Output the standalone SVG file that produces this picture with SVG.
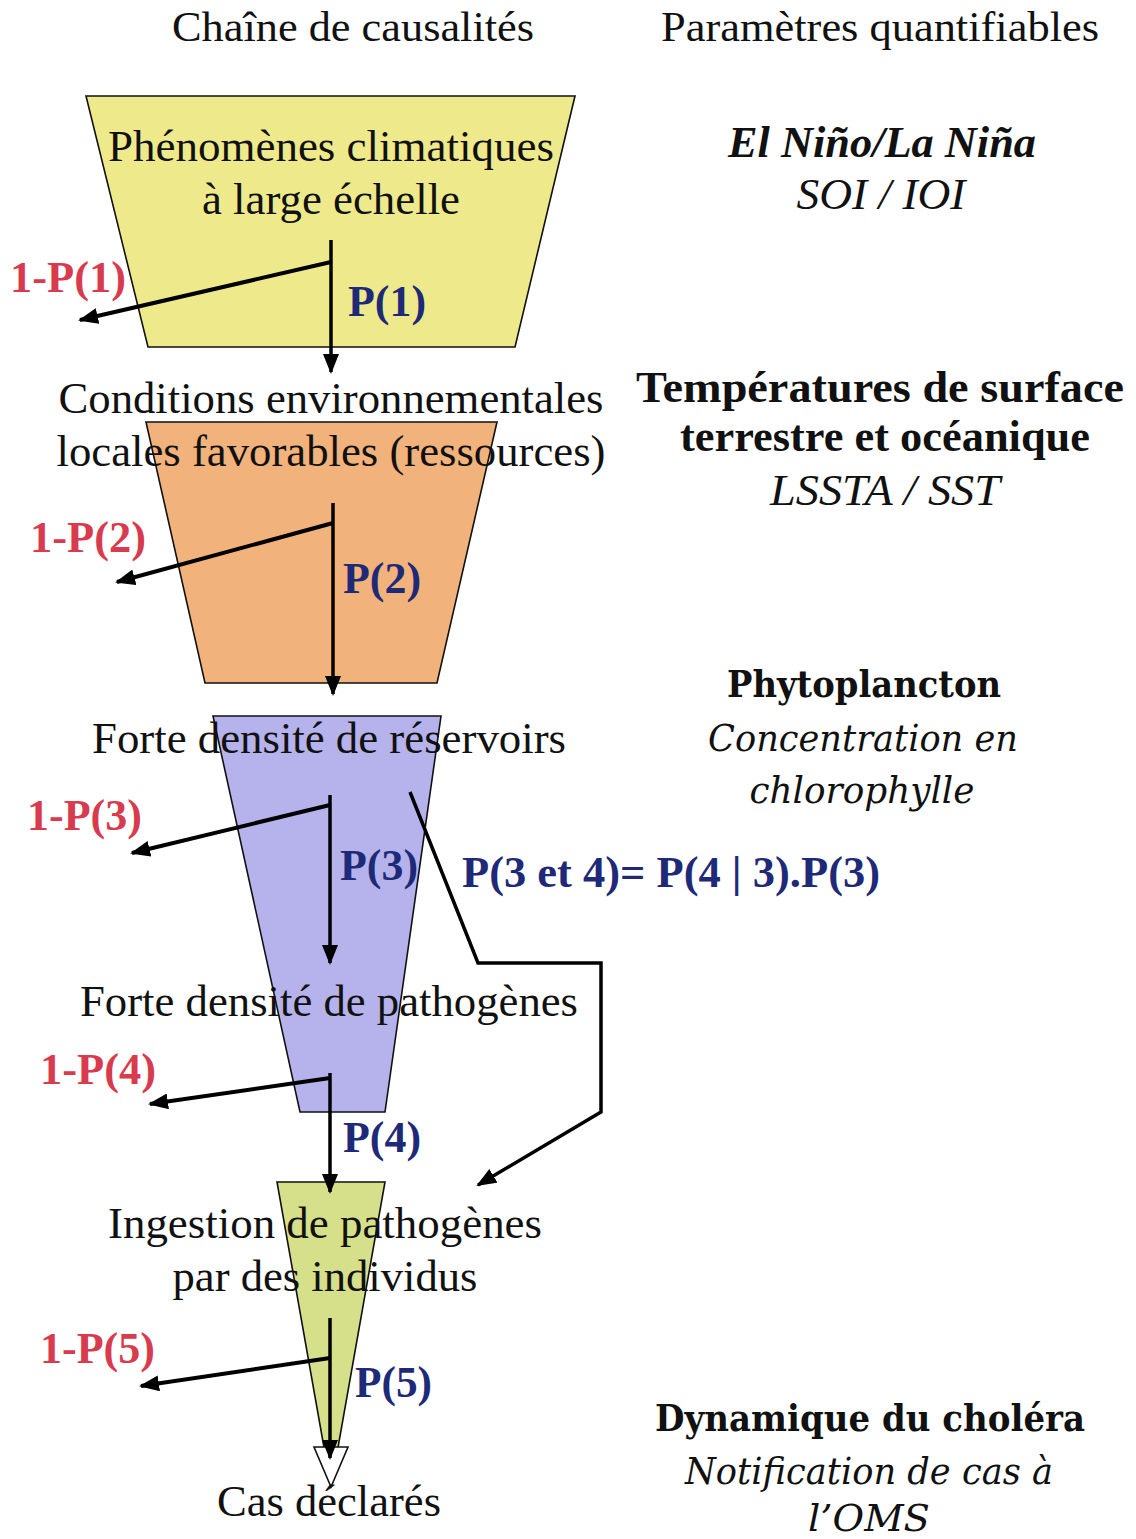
<svg xmlns="http://www.w3.org/2000/svg" width="1136" height="1539" viewBox="0 0 1136 1539">
<defs>
<marker id="ah" markerUnits="userSpaceOnUse" markerWidth="20" markerHeight="16" refX="18" refY="8" orient="auto">
<path d="M0,0 L20,8 L0,16 z" fill="#000"/>
</marker>
<style>
.t{font-family:'Liberation Serif','Times New Roman',serif;font-size:44px;fill:#111;text-anchor:middle}
.h{font-family:'Liberation Serif','Times New Roman',serif;font-size:43px;fill:#111;text-anchor:middle}
.r{font-family:'Liberation Serif','Times New Roman',serif;font-size:44px;font-weight:bold;fill:#d83a4e}
.b{font-family:'Liberation Serif','Times New Roman',serif;font-size:44px;font-weight:bold;fill:#1e2a78}
.rb{font-family:'Liberation Serif','Times New Roman',serif;font-size:44px;font-weight:bold;fill:#111;text-anchor:middle}
.ri{font-family:'Liberation Serif','Times New Roman',serif;font-size:44px;font-style:italic;fill:#111;text-anchor:middle}
.wb{font-family:'DejaVu Serif',serif;font-size:37px;font-weight:bold;fill:#111;text-anchor:middle}
.wi{font-family:'DejaVu Serif',serif;font-size:37px;font-style:italic;fill:#111;text-anchor:middle}
.shape{stroke:#111;stroke-width:1.6}
.c{fill:none;stroke:#000;stroke-width:3.5}
.cb{fill:none;stroke:#000;stroke-width:4}
</style>
</defs>
<rect width="1136" height="1539" fill="#fff"/>

<g id="headers">
<text class="h" x="353" y="41" textLength="362" lengthAdjust="spacingAndGlyphs">Chaîne de causalités</text>
<text class="h" x="880" y="41" textLength="438" lengthAdjust="spacingAndGlyphs">Paramètres quantifiables</text>
</g>

<g id="node1">
<polygon class="shape" points="86,96 575,96 515,347 148,347" fill="#eeea8c"/>
<text class="t" x="331" y="161" textLength="446" lengthAdjust="spacingAndGlyphs">Phénomènes climatiques</text>
<text class="t" x="331" y="214" textLength="258" lengthAdjust="spacingAndGlyphs">à large échelle</text>
</g>

<g id="node2">
<polygon class="shape" points="146,422 497,422 437,683 205,683" fill="#f2b27c"/>
<text class="t" x="331" y="413" textLength="545" lengthAdjust="spacingAndGlyphs">Conditions environnementales</text>
<text class="t" x="331" y="466" textLength="549" lengthAdjust="spacingAndGlyphs">locales favorables (ressources)</text>
</g>

<g id="node3">
<polygon class="shape" points="213,716 441,716 385,1112 300,1112" fill="#b6b3ec"/>
<text class="t" x="329" y="753" textLength="474" lengthAdjust="spacingAndGlyphs">Forte densité de réservoirs</text>
</g>

<g id="node4">
<text class="t" x="329" y="1016" textLength="498" lengthAdjust="spacingAndGlyphs">Forte densité de pathogènes</text>
</g>

<g id="node5">
<polygon class="shape" points="277,1182 385,1182 331,1487" fill="#d6e08a"/>
<polygon class="shape" points="314,1447 348,1447 331,1487" fill="#fff"/>
<text class="t" x="325" y="1238" textLength="434" lengthAdjust="spacingAndGlyphs">Ingestion de pathogènes</text>
<text class="t" x="325" y="1291" textLength="305" lengthAdjust="spacingAndGlyphs">par des individus</text>
</g>

<g id="node6">
<text class="t" x="329" y="1516" textLength="224" lengthAdjust="spacingAndGlyphs">Cas déclarés</text>
</g>

<g id="connectors">
<line class="c" x1="331" y1="240" x2="331" y2="372" marker-end="url(#ah)"/>
<line class="cb" x1="331" y1="262" x2="80" y2="320" marker-end="url(#ah)"/>
<line class="c" x1="333" y1="503" x2="333" y2="694" marker-end="url(#ah)"/>
<line class="cb" x1="333" y1="523" x2="117" y2="582" marker-end="url(#ah)"/>
<line class="c" x1="330" y1="795" x2="330" y2="963" marker-end="url(#ah)"/>
<line class="cb" x1="330" y1="805" x2="132" y2="853" marker-end="url(#ah)"/>
<line class="c" x1="330" y1="1073" x2="330" y2="1192" marker-end="url(#ah)"/>
<line class="cb" x1="330" y1="1078" x2="150" y2="1104" marker-end="url(#ah)"/>
<line class="c" x1="330" y1="1318" x2="330" y2="1458" marker-end="url(#ah)"/>
<line class="cb" x1="330" y1="1358" x2="141" y2="1386" marker-end="url(#ah)"/>
<polyline class="c" points="410,792 478,963 601,963 601,1112 478,1185" marker-end="url(#ah)"/>
</g>

<g id="labels">
<text class="r" x="10" y="292" textLength="116" lengthAdjust="spacingAndGlyphs">1-P(1)</text>
<text class="b" x="348" y="316" textLength="78" lengthAdjust="spacingAndGlyphs">P(1)</text>
<text class="r" x="30" y="552" textLength="116" lengthAdjust="spacingAndGlyphs">1-P(2)</text>
<text class="b" x="343" y="593" textLength="78" lengthAdjust="spacingAndGlyphs">P(2)</text>
<text class="r" x="27" y="830" textLength="115" lengthAdjust="spacingAndGlyphs">1-P(3)</text>
<text class="b" x="340" y="880" textLength="78" lengthAdjust="spacingAndGlyphs">P(3)</text>
<text class="b" x="462" y="887" textLength="418" lengthAdjust="spacingAndGlyphs">P(3 et 4)= P(4 | 3).P(3)</text>
<text class="r" x="40" y="1084" textLength="116" lengthAdjust="spacingAndGlyphs">1-P(4)</text>
<text class="b" x="343" y="1152" textLength="78" lengthAdjust="spacingAndGlyphs">P(4)</text>
<text class="r" x="40" y="1363" textLength="115" lengthAdjust="spacingAndGlyphs">1-P(5)</text>
<text class="b" x="355" y="1397" textLength="77" lengthAdjust="spacingAndGlyphs">P(5)</text>
</g>

<g id="params">
<text class="rb" x="882" y="157" font-style="italic" textLength="308" lengthAdjust="spacingAndGlyphs">El Niño/La Niña</text>
<text class="ri" x="881" y="209" textLength="169" lengthAdjust="spacingAndGlyphs">SOI / IOI</text>
<text class="rb" x="880" y="402" textLength="488" lengthAdjust="spacingAndGlyphs">Températures de surface</text>
<text class="rb" x="885" y="451" textLength="410" lengthAdjust="spacingAndGlyphs">terrestre et océanique</text>
<text class="ri" x="885" y="505" textLength="230" lengthAdjust="spacingAndGlyphs">LSSTA / SST</text>
<text class="wb" x="864" y="697" textLength="274" lengthAdjust="spacingAndGlyphs">Phytoplancton</text>
<text class="wi" x="863" y="751" textLength="310" lengthAdjust="spacingAndGlyphs">Concentration en</text>
<text class="wi" x="862" y="803" textLength="225" lengthAdjust="spacingAndGlyphs">chlorophylle</text>
<text class="wb" x="870" y="1431" textLength="430" lengthAdjust="spacingAndGlyphs">Dynamique du choléra</text>
<text class="wi" x="869" y="1484" textLength="368" lengthAdjust="spacingAndGlyphs">Notification de cas à</text>
<text class="wi" x="869" y="1531" textLength="122" lengthAdjust="spacingAndGlyphs">l’OMS</text>
</g>
</svg>
